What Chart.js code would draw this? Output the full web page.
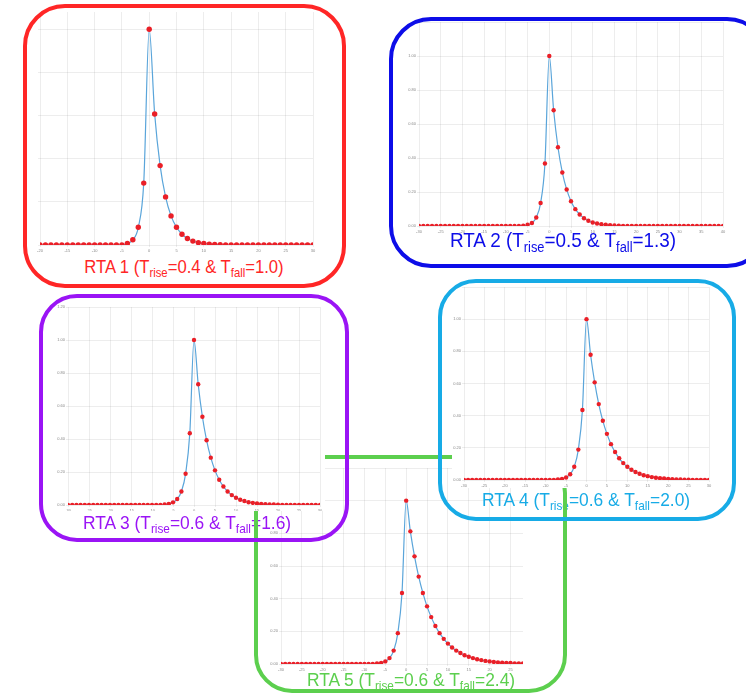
<!DOCTYPE html>
<html><head><meta charset="utf-8">
<script src="https://cdn.jsdelivr.net/npm/chart.js@4.4.1/dist/chart.umd.min.js"></script>
<style>
html,body{margin:0;padding:0;background:#fff;overflow:hidden;width:746px;height:695px;position:relative;}
.box{position:absolute;box-sizing:border-box;border-style:solid;border-width:4px;background:transparent;}
.pane{position:absolute;background:#fff;}
.pane canvas{display:block;}
.cap{position:absolute;font-family:"Liberation Sans",Arial,sans-serif;white-space:nowrap;line-height:1;transform-origin:50% 50%;}
.cap sub{font-size:0.68em;vertical-align:-0.32em;line-height:0;}
</style></head><body>

<div class="pane" style="left:30px;top:8px;z-index:1"><canvas id="c1" width="295" height="246"></canvas></div>
<div class="pane" style="left:398px;top:18px;z-index:1"><canvas id="c2" width="340" height="216"></canvas></div>
<div class="pane" style="left:262px;top:461px;z-index:1"><canvas id="c5" width="268" height="211"></canvas></div>

<div class="cap" id="t1" style="left:184px;top:258px;font-size:18.5px;color:#ff2626;z-index:2">RTA 1 (T<sub>rise</sub>=0.4 &amp; T<sub>fall</sub>=1.0)</div>
<div class="cap" id="t2" style="left:563px;top:229px;font-size:21px;color:#0d0de8;z-index:2">RTA 2 (T<sub>rise</sub>=0.5 &amp; T<sub>fall</sub>=1.3)</div>
<div class="cap" id="t3" style="left:187px;top:514px;font-size:18.5px;color:#9a14f5;z-index:2">RTA 3 (T<sub>rise</sub>=0.6 &amp; T<sub>fall</sub>=1.6)</div>
<div class="cap" id="t4" style="left:586px;top:491px;font-size:18.5px;color:#17abe6;z-index:2">RTA 4 (T<sub>rise</sub>=0.6 &amp; T<sub>fall</sub>=2.0)</div>
<div class="cap" id="t5" style="left:411px;top:671px;font-size:18.5px;color:#5ccf4e;z-index:2">RTA 5 (T<sub>rise</sub>=0.6 &amp; T<sub>fall</sub>=2.4)</div>

<div class="box" style="left:254px;top:455px;width:313px;height:238px;border-color:#5ccf4e;border-radius:38px;z-index:3"></div>

<div class="pane" style="left:46px;top:298px;z-index:4"><canvas id="c3" width="279" height="213"></canvas></div>
<div class="pane" style="left:452px;top:283px;z-index:4"><canvas id="c4" width="271" height="205"></canvas></div>

<div class="box" style="left:23px;top:4px;width:323px;height:284px;border-color:#ff2626;border-radius:42px;z-index:5"></div>
<div class="box" style="left:389px;top:17px;width:380px;height:251px;border-color:#0d0de8;border-radius:42px;z-index:5"></div>
<div class="box" style="left:39px;top:294px;width:310px;height:248px;border-color:#9a14f5;border-radius:38px;z-index:5"></div>
<div class="box" style="left:438px;top:279px;width:298px;height:242px;border-color:#17abe6;border-radius:38px;z-index:5"></div>

<script>
// ---- data (x starts at the first tick value, one point per integer step) ----
const p1Start = -20;
const p1Values = [0,0,0,0,0,0,0,0,0,0,0,0,0,0,0,0,
  0.007,0.024,0.082,0.287,1.0,
  0.607,0.368,0.223,0.135,0.082,0.05,0.03,0.018,0.011,0.007,0.004,0.002,0.001,
  0,0,0,0,0,0,0,0,0,0,0,0,0,0,0,0,0];

const p2Start = -30;
const p2Values = [0,0,0,0,0,0,0,0,0,0,0,0,0,0,0,0,0,0,0,0,0,0,0,0,
  0.002,0.007,0.018,0.05,0.135,0.368,1.0,
  0.681,0.463,0.315,0.215,0.146,0.099,0.068,0.046,0.031,0.021,0.015,0.01,0.007,0.005,0.003,0.002,0.001,
  0,0,0,0,0,0,0,0,0,0,0,0,0,0,0,0,0,0,0,0,0,0,0];

const p3Start = -30;
const p3Values = [0,0,0,0,0,0,0,0,0,0,0,0,0,0,0,0,0,0,0,0,0,0,
  0.001,0.003,0.007,0.016,0.036,0.082,0.189,0.435,1.0,
  0.732,0.535,0.392,0.287,0.21,0.153,0.112,0.082,0.06,0.044,0.032,0.024,0.017,0.013,0.009,0.007,0.005,0.004,0.003,0.002,
  0,0,0,0,0,0,0,0,0,0];

const p4Start = -30;
const p4Values = [0,0,0,0,0,0,0,0,0,0,0,0,0,0,0,0,0,0,0,0,0,0,
  0.001,0.003,0.007,0.016,0.036,0.082,0.189,0.435,1.0,
  0.779,0.607,0.472,0.368,0.287,0.223,0.174,0.135,0.105,0.082,0.064,0.05,0.039,0.03,0.024,
  0.018,0.014,0.011,0.009,0.007,0.005,0.004,0.003,0.002,0.002,0.001,0.001,0.001,0.001,0.001];

const p5Start = -30;
const p5Values = [0,0,0,0,0,0,0,0,0,0,0,0,0,0,0,0,0,0,0,0,0,0,
  0.001,0.003,0.007,0.016,0.036,0.082,0.189,0.435,1.0,
  0.812,0.659,0.535,0.435,0.353,0.287,0.233,0.189,0.154,0.125,0.101,0.082,0.067,0.054,
  0.044,0.036,0.029,0.024,0.019,0.016,0.013,0.01,0.008,0.007,0.006,0.004,0.004,0.003];

const xTickStep = 5;
const yTickStep = 0.2;

// ---- styling ----
const LINE = '#5aa5da';
const DOT = '#ea1f27';
const GRID = 'rgba(0,0,0,0.07)';
const TICK = '#8a8a8a';

function onStep(v, step){ return Math.abs(v/step - Math.round(v/step)) < 1e-6; }

function makeChart(id, start, vals, c){
  const data = vals.map((v,i)=>({x:start+i, y:v}));
  new Chart(document.getElementById(id), {
    type:'line',
    data:{datasets:[{data, borderColor:LINE, borderWidth:1.2, pointRadius:c.dot, pointHoverRadius:c.dot,
      pointBackgroundColor:DOT, pointBorderWidth:0, cubicInterpolationMode:'monotone', fill:false}]},
    options:{
      responsive:false, animation:false, events:[],
      layout:{padding:{top:c.pt, right:c.pr, left:0, bottom:0}},
      plugins:{legend:{display:false}, tooltip:{enabled:false}},
      scales:{
        x:{type:'linear', min:c.xmin, max:c.xmax,
          ticks:{stepSize:xTickStep, font:{size:4, family:'Liberation Sans'}, color:TICK, padding:1, maxRotation:0, autoSkip:false},
          grid:{color:GRID, tickLength:2}, border:{display:false},
          afterBuildTicks:s=>{ s.ticks = s.ticks.filter(t=>onStep(t.value, xTickStep)); },
          afterFit:s=>{ s.height = c.xh; }},
        y:{type:'linear', min:0, max:c.ymax,
          ticks:{stepSize:yTickStep, display:c.ylab, font:{size:4, family:'Liberation Sans'}, color:TICK, padding:1,
            callback:v=> (c.hideTop && v > 1.1) ? '' : Number(v).toFixed(2)},
          grid:{color:GRID, tickLength:2}, border:{display:false},
          afterBuildTicks:s=>{ s.ticks = s.ticks.filter(t=>onStep(t.value, yTickStep)); },
          afterFit:s=>{ s.width = c.yw; }}
      }
    }
  });
}

makeChart('c1', p1Start, p1Values, {xmin:-20, xmax:30, ymax:1.08, ylab:false, hideTop:false, yw:10, xh:9, pt:4, pr:12, dot:2.7});
makeChart('c2', p2Start, p2Values, {xmin:-30, xmax:40, ymax:1.2, ylab:true, hideTop:true, yw:21, xh:8, pt:4, pr:15, dot:2.2});
makeChart('c3', p3Start, p3Values, {xmin:-30, xmax:30, ymax:1.2, ylab:true, hideTop:false, yw:22, xh:6, pt:9, pr:5, dot:2.2});
makeChart('c4', p4Start, p4Values, {xmin:-30, xmax:30, ymax:1.2, ylab:true, hideTop:true, yw:12, xh:8, pt:4, pr:14, dot:2.2});
makeChart('c5', p5Start, p5Values, {xmin:-30, xmax:28, ymax:1.2, ylab:true, hideTop:false, yw:19, xh:8, pt:7, pr:7, dot:2.2});

// center captions horizontally on their anchor and squeeze slightly like the reference lettering
const capScale = {t1:0.9, t2:0.9, t3:0.94, t4:0.94, t5:0.94};
for (const id in capScale){
  const el = document.getElementById(id);
  el.style.transform = 'translateX(-50%) scaleX(' + capScale[id] + ')';
}
</script>
</body></html>
